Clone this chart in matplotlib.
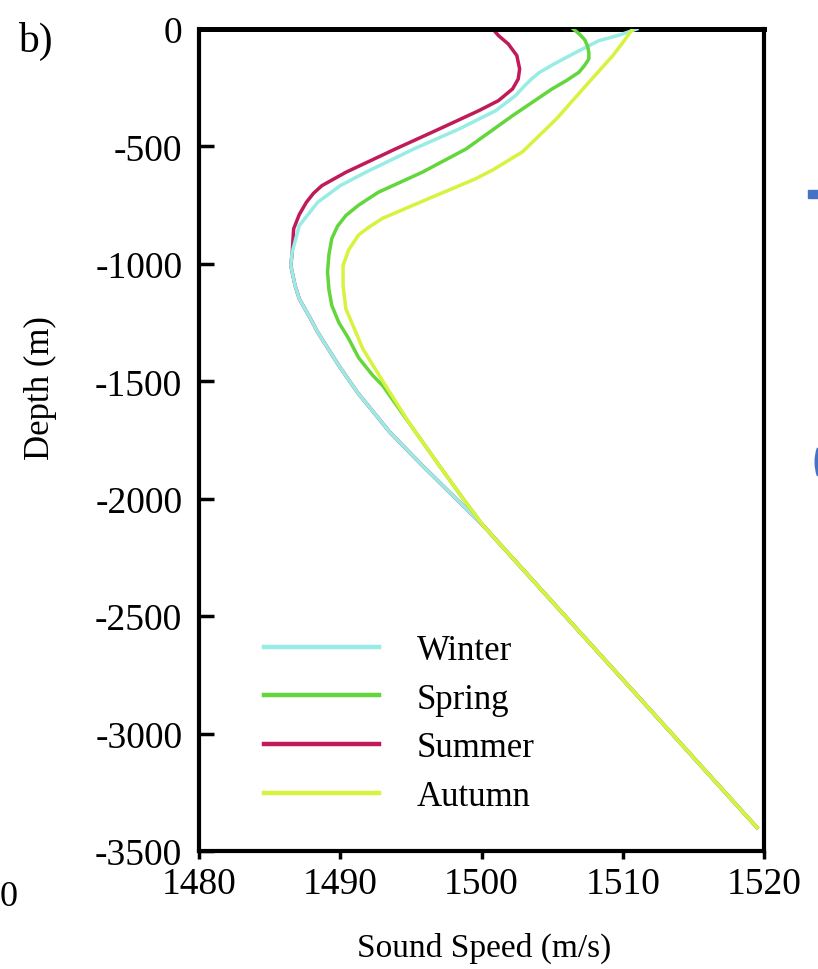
import numpy as np
import matplotlib
matplotlib.use("Agg")
import matplotlib.pyplot as plt
from matplotlib.patches import Rectangle, Arc

plt.rcParams['font.family'] = ['Liberation Serif', 'DejaVu Serif']

# --- data (depth in m, sound speed in m/s) ---
winter_depth = [0, -25, -50, -99, -150, -185, -215, -245, -284, -348, -426, -511, -610,
                -667, -738, -837, -950, -1007, -1092, -1149, -1234, -1291, -1376, -1433,
                -1546, -1716, -1858, -2000, -2113, -3400]
winter_speed = [1511.0, 1509.8, 1508.3, 1506.7, 1505.1, 1504.1, 1503.5, 1503.0, 1502.4,
                1501.0, 1498.4, 1495.2, 1491.8, 1490.0, 1488.4, 1487.1, 1486.6, 1486.5,
                1486.8, 1487.1, 1487.9, 1488.4, 1489.3, 1489.9, 1491.2, 1493.5, 1495.8,
                1498.2, 1500.1, 1519.5]

spring_depth = [0, -20, -45, -71, -100, -127, -155, -184, -220, -255, -369, -511, -610,
                -695, -750, -794, -840, -893, -960, -1035, -1110, -1177, -1250, -1319,
                -1400, -1475, -1518, -1688, -1858, -2000, -2113, -3400]
spring_speed = [1506.5, 1506.9, 1507.3, 1507.5, 1507.6, 1507.6, 1507.3, 1506.9, 1506.0,
                1505.0, 1502.2, 1498.9, 1495.8, 1492.7, 1491.3, 1490.4, 1489.8, 1489.4,
                1489.2, 1489.1, 1489.2, 1489.4, 1489.9, 1490.6, 1491.3, 1492.3, 1493.0,
                1495.0, 1497.0, 1498.7, 1500.1, 1519.5]

summer_depth = [0, -28, -64, -113, -170, -213, -255, -305, -348, -426, -511, -610, -667,
                -700, -738, -790, -851, -950, -1007, -1092, -1149, -1234, -1291, -1376,
                -1433, -1546, -1716, -1858, -2000, -2113, -3400]
summer_speed = [1500.8, 1501.2, 1501.9, 1502.5, 1502.7, 1502.6, 1502.2, 1501.2, 1499.8,
                1497.0, 1493.9, 1490.4, 1488.7, 1488.1, 1487.6, 1487.1, 1486.7, 1486.6,
                1486.5, 1486.8, 1487.1, 1487.9, 1488.4, 1489.3, 1489.9, 1491.2, 1493.5,
                1495.8, 1498.2, 1500.1, 1519.5]

autumn_depth = [0, -50, -113, -227, -383, -523, -600, -640, -721, -806, -845, -877, -940,
                -1007, -1092, -1192, -1234, -1362, -1518, -1688, -1858, -2000, -2113, -3400]
autumn_speed = [1510.7, 1510.1, 1509.3, 1507.6, 1505.3, 1502.9, 1500.8, 1499.5, 1496.3,
                1493.0, 1492.0, 1491.3, 1490.6, 1490.2, 1490.2, 1490.4, 1490.7, 1491.6,
                1493.2, 1495.0, 1497.0, 1498.7, 1500.1, 1519.5]

x_ticks = [1480, 1490, 1500, 1510, 1520]
y_ticks = [0, -500, -1000, -1500, -2000, -2500, -3000, -3500]

c_winter = '#98ece6'
c_spring = '#62d63a'
c_summer = '#c01a58'
c_autumn = '#d8f23e'
c_blue = '#4472c4'

fig = plt.figure(figsize=(8.18, 9.70), dpi=100)
ax = fig.add_axes([199 / 818, 1 - 852 / 970, 565 / 818, 822 / 970])

lw = 2.5
# summer sits under winter below ~900 m, so draw it first
l_sum, = ax.plot(summer_speed, summer_depth, color=c_summer, lw=lw, label='Summer', zorder=2)
l_win, = ax.plot(winter_speed, winter_depth, color=c_winter, lw=lw, label='Winter', zorder=3)
l_spr, = ax.plot(spring_speed, spring_depth, color=c_spring, lw=lw, label='Spring', zorder=4)
l_aut, = ax.plot(autumn_speed, autumn_depth, color=c_autumn, lw=lw, label='Autumn', zorder=5)

ax.set_xlim(1480, 1520)
ax.set_ylim(-3500, 0)
ax.set_xticks(x_ticks)
ax.set_yticks(y_ticks)
ax.set_xticklabels([str(t) for t in x_ticks])
ax.set_yticklabels([str(t) for t in y_ticks])

for s in ax.spines.values():
    s.set_linewidth(3)
ax.spines['top'].set_linewidth(3.6)
ax.tick_params(axis='y', direction='in', length=11, width=2.5, labelsize=27, pad=12)
ax.tick_params(axis='x', direction='out', length=6, width=2.5, labelsize=27, pad=5)

leg = ax.legend(handles=[l_win, l_spr, l_sum, l_aut], loc='upper left',
                bbox_to_anchor=(0.115, 0.264), frameon=False, fontsize=25,
                borderaxespad=0, borderpad=0,
                handlelength=3.3, handletextpad=1.1, labelspacing=0.45)
for h in leg.get_lines():
    h.set_linewidth(3.2)

fig.text(40 / 818, 1 - 388 / 970, 'Depth (m)', rotation=90, ha='center', va='center',
         fontsize=25)
fig.text(484 / 818, 1 - 948 / 970, 'Sound Speed (m/s)', ha='center', va='center',
         fontsize=24)
fig.text(18 / 818, 1 - 41 / 970, 'b)', ha='left', va='center', fontsize=30)

# bits of neighbouring panels cut by the crop
fig.text(0, 1 - 897 / 970, '0', ha='left', va='center', fontsize=26)
fig.add_artist(Rectangle((808 / 818, 1 - 199 / 970), 12 / 818, 8 / 970,
                         transform=fig.transFigure, color=c_blue))
fig.add_artist(Arc((8.36, (970 - 463) / 100), 0.36, 0.56, theta1=140, theta2=220,
                   lw=5, color=c_blue, transform=fig.dpi_scale_trans))

fig.savefig('out.png', dpi=100)
